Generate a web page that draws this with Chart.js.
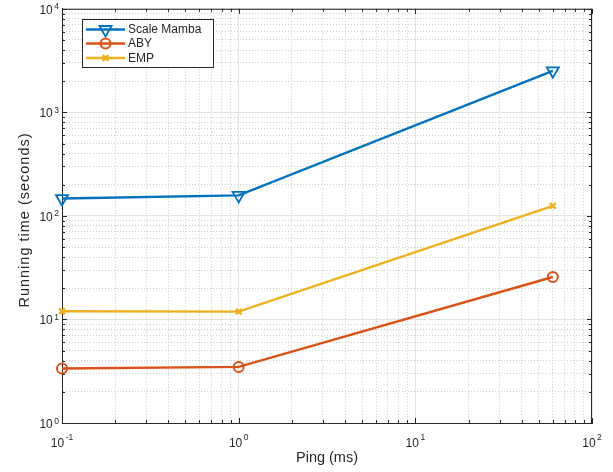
<!DOCTYPE html>
<html>
<head>
<meta charset="utf-8">
<script src="https://cdn.jsdelivr.net/npm/chart.js@4.4.0/dist/chart.umd.min.js"></script>
<style>
  html, body { margin: 0; padding: 0; background: #fff; }
  #wrap { width: 613px; height: 472px; }
</style>
</head>
<body>
<div id="wrap"><canvas id="plot"></canvas></div>
<script>
// values
const ping = [0.1, 1, 60];
const scaleMamba = [147, 158, 2520];
const aby = [3.36, 3.48, 25.7];
const emp = [12.0, 11.9, 125];
const xDecades = [-1, 0, 1, 2];
const yDecades = [0, 1, 2, 3, 4];

const FONT = 'Helvetica, Arial, "Liberation Sans", sans-serif';
const AXIS = '#262626';

// every 1..9 x 10^d step, used for the log grid and tick marks
const logSteps = (decs) => {
  const out = [];
  decs.forEach((d, i) => {
    if (i < decs.length - 1) {
      for (let m = 1; m < 10; m++) out.push({ value: m * Math.pow(10, d) });
    } else {
      out.push({ value: Math.pow(10, d) });
    }
  });
  return out;
};
const isMajor = v => Math.abs(Math.log10(v) - Math.round(Math.log10(v))) < 1e-9;

const gridOpts = {
  color: c => (c.tick && isMajor(c.tick.value)) ? '#e2e2e2' : '#cccccc',
  lineWidth: 1,
  drawTicks: false
};
const borderOpts = {
  display: true,
  color: AXIS,
  width: 1,
  dash: c => (c.tick && !isMajor(c.tick.value)) ? [1, 2] : []
};

const series = [
  { label: 'Scale Mamba', data: scaleMamba, color: '#0072BD', style: 'triangle', rot: 180, r: 7, bw: 1.8 },
  { label: 'ABY', data: aby, color: '#D95319', style: 'circle', rot: 0, r: 5, bw: 2 },
  { label: 'EMP', data: emp, color: '#EDB120', style: 'crossRot', rot: 0, r: 4, bw: 2.5 }
];

// ticks, labels, axis titles and legend drawn the way the original looks
const decor = {
  id: 'decor',
  afterDraw(chart) {
    const { ctx, chartArea: a } = chart;
    const xs = chart.scales.x, ys = chart.scales.y;
    ctx.save();
    ctx.strokeStyle = AXIS;
    ctx.lineWidth = 1;
    ctx.beginPath();
    // box top and right
    ctx.moveTo(a.left, a.top + 0.5); ctx.lineTo(a.right, a.top + 0.5);
    ctx.moveTo(a.right - 0.5, a.top); ctx.lineTo(a.right - 0.5, a.bottom);
    logSteps(xDecades).forEach(t => {
      const px = Math.round(xs.getPixelForValue(t.value)) + 0.5;
      const len = isMajor(t.value) ? 5 : 3;
      ctx.moveTo(px, a.bottom); ctx.lineTo(px, a.bottom - len);
      ctx.moveTo(px, a.top); ctx.lineTo(px, a.top + len);
    });
    logSteps(yDecades).forEach(t => {
      const py = Math.round(ys.getPixelForValue(t.value)) + 0.5;
      const len = isMajor(t.value) ? 5 : 3;
      ctx.moveTo(a.left, py); ctx.lineTo(a.left + len, py);
      ctx.moveTo(a.right, py); ctx.lineTo(a.right - len, py);
    });
    ctx.stroke();

    // power-of-ten labels
    ctx.fillStyle = AXIS;
    ctx.textBaseline = 'alphabetic';
    ctx.textAlign = 'left';
    const baseFont = '12px ' + FONT, expFont = '8.5px ' + FONT;
    xDecades.forEach(d => {
      const px = xs.getPixelForValue(Math.pow(10, d));
      ctx.font = baseFont; const wb = ctx.measureText('10').width;
      ctx.font = expFont; const we = ctx.measureText(String(d)).width;
      const left = px - (wb + 1.5 + we) / 2;
      ctx.font = baseFont; ctx.fillText('10', left, 446.5);
      ctx.font = expFont; ctx.fillText(String(d), left + wb + 1.5, 439.5);
    });
    yDecades.forEach(d => {
      const py = ys.getPixelForValue(Math.pow(10, d));
      ctx.font = expFont; const we = ctx.measureText(String(d)).width;
      ctx.font = baseFont; const wb = ctx.measureText('10').width;
      const right = a.left - 3;
      ctx.fillText('10', right - we - 1.5 - wb, py + 5);
      ctx.font = expFont; ctx.fillText(String(d), right - we, py + 0.5);
    });

    // axis titles
    ctx.font = '14.5px ' + FONT;
    ctx.textAlign = 'center';
    ctx.textBaseline = 'middle';
    ctx.fillText('Ping (ms)', (a.left + a.right) / 2, 458);
    ctx.save();
    ctx.translate(25, 220);
    ctx.rotate(-Math.PI / 2);
    ctx.letterSpacing = '1px';
    ctx.fillText('Running time (seconds)', 0, 0);
    ctx.restore();

    // legend box
    const lx = 82, ly = 19, lw = 131, lh = 48;
    ctx.fillStyle = '#fff';
    ctx.fillRect(lx, ly, lw, lh);
    ctx.strokeStyle = AXIS;
    ctx.lineWidth = 1;
    ctx.strokeRect(lx + 0.5, ly + 0.5, lw, lh);
    const rows = [29.5, 43.5, 58];
    ctx.font = '12px ' + FONT;
    ctx.textAlign = 'left';
    ctx.textBaseline = 'middle';
    series.forEach((s, i) => {
      const y = rows[i];
      ctx.strokeStyle = s.color;
      ctx.lineWidth = 2.4;
      ctx.beginPath(); ctx.moveTo(86, y); ctx.lineTo(125, y); ctx.stroke();
      ctx.lineWidth = s.bw;
      ctx.fillStyle = 'rgba(0,0,0,0)';
      Chart.helpers.drawPoint(ctx, { pointStyle: s.style, rotation: s.rot, radius: s.r, borderWidth: s.bw }, 105.5, y);
      ctx.fillStyle = AXIS;
      ctx.fillText(s.label, 128, y + 0.5);
    });
    ctx.restore();
  }
};

new Chart('plot', {
  type: 'line',
  data: {
    labels: ping,
    datasets: series.map(s => ({
      label: s.label,
      data: ping.map((p, i) => ({ x: p, y: s.data[i] })),
      borderColor: s.color,
      borderWidth: 2.4,
      backgroundColor: 'rgba(0,0,0,0)',
      pointStyle: s.style,
      pointRotation: s.rot,
      pointRadius: s.r,
      pointBorderWidth: s.bw,
      pointBorderColor: s.color,
      pointBackgroundColor: 'rgba(0,0,0,0)',
      tension: 0,
      fill: false,
      clip: false
    }))
  },
  options: {
    responsive: true,
    maintainAspectRatio: false,
    animation: false,
    layout: { padding: { left: 62, right: 21, top: 7, bottom: 49 } },
    plugins: { legend: { display: false }, tooltip: { enabled: false } },
    scales: {
      x: {
        type: 'logarithmic',
        min: 0.1, max: 100,
        afterBuildTicks: s => { s.ticks = logSteps(xDecades); },
        afterFit: s => { s.height = 0; },
        ticks: { display: false },
        grid: gridOpts,
        border: borderOpts
      },
      y: {
        type: 'logarithmic',
        min: 1, max: 10000,
        afterBuildTicks: s => { s.ticks = logSteps(yDecades); },
        afterFit: s => { s.width = 0; },
        ticks: { display: false },
        grid: gridOpts,
        border: borderOpts
      }
    }
  },
  plugins: [decor]
});
</script>
</body>
</html>
